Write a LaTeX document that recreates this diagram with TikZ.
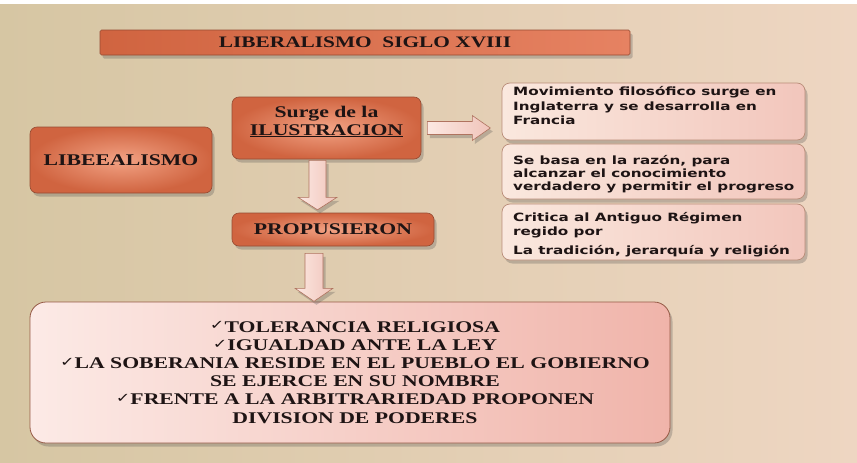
\documentclass[tikz,border=0pt]{standalone}
\usepackage{fontspec}
\setmainfont{Liberation Serif}
\newfontfamily\sansf{DejaVu Sans}
\usepackage{graphicx}
\usetikzlibrary{shadows,calc}
\definecolor{bgL}{RGB}{214,198,163}
\definecolor{bgR}{RGB}{238,214,194}
\definecolor{orD}{RGB}{208,100,64}
\definecolor{orL}{RGB}{242,162,132}
\definecolor{orM}{RGB}{230,130,98}
\definecolor{orB}{RGB}{150,75,50}
\definecolor{rL}{RGB}{250,232,222}
\definecolor{rR}{RGB}{242,198,188}
\definecolor{rB}{RGB}{185,140,120}
\definecolor{bigL}{RGB}{252,234,230}
\definecolor{bigR}{RGB}{240,180,170}
\definecolor{bigB}{RGB}{150,90,70}
\definecolor{aL}{RGB}{252,232,226}
\definecolor{aR}{RGB}{240,196,186}
\definecolor{aB}{RGB}{175,115,95}
\definecolor{txt}{RGB}{30,20,20}
\newcommand{\sx}[1]{\scalebox{1.333}[1]{#1}}
\newcommand{\ck}{{\sansf\mdseries\fontsize{13}{13}\selectfont\raisebox{2.2pt}{✓}}}
\tikzset{
  shd/.style={drop shadow={shadow xshift=2.5pt,shadow yshift=-3.5pt,opacity=0.28,fill=black!70}},
  orbox/.style={draw=orB,line width=0.6pt,rounded corners=7pt,inner color=orL,outer color=orD,shd,
    inner sep=0pt,text=txt,font=\fontsize{16.3}{18}\selectfont\bfseries},
  rbox/.style={draw=rB,line width=0.7pt,rounded corners=8pt,left color=rL,right color=rR,shd,
    minimum width=303pt,inner sep=0pt},
  bigbox/.style={draw=bigB,line width=0.8pt,rounded corners=16pt,left color=bigL,right color=bigR,shd,
    minimum width=640pt,minimum height=141pt,inner sep=0pt},
  sansT/.style={text=txt,inner sep=0pt,font=\sansf\bfseries\fontsize{11.4}{14}\selectfont},
  serT/.style={text=txt,inner sep=0pt,font=\fontsize{16.3}{18}\selectfont\bfseries},
  blockarrow/.style={draw=aB,line width=0.6pt,left color=aL,right color=aR,shd,line join=miter}
}
\begin{document}
\begin{tikzpicture}[x=1pt,y=-1pt]
\fill[white] (0,0) rectangle (857,463);
\shade[left color=bgL,right color=bgR] (0,4) rectangle (857,463);
\useasboundingbox (0,0) rectangle (857,463);

% title bar
\node[draw=orB,line width=0.6pt,rounded corners=1.5pt,left color=orD,middle color=orL,right color=orM,shd,
  minimum width=530pt,minimum height=25pt,inner sep=0pt,text=txt,font=\fontsize{16}{18}\selectfont\bfseries]
  (title) at (365,42.5) {\sx{LIBERALISMO\ \ SIGLO XVIII}};

% orange boxes
\node[orbox,minimum width=182pt,minimum height=66pt] (lib) at (121,160) {\sx{LIBEEALISMO}};
\node[orbox,minimum width=189pt,minimum height=62pt] (surge) at (326.5,128) {};
\node[serT,anchor=base] (surget) at (326.5,117.3)
  {\sx{\begin{tabular}[t]{@{}c@{}}Surge de la\\[-0.3pt]\underline{ILUSTRACION}\end{tabular}}};
\node[orbox,minimum width=202pt,minimum height=33pt] (prop) at (333,229.5) {\sx{PROPUSIERON}};

% right boxes
\node[rbox,minimum height=57pt] (r1) at (653.5,111.5) {};
\node[rbox,minimum height=55pt] (r2) at (653.5,171.5) {};
\node[rbox,minimum height=56pt] (r3) at (653.5,232) {};
\node[sansT,anchor=base west] (r1t) at (513,95.7)
  {\fontsize{11.4}{14.5}\selectfont\sx{\begin{tabular}[t]{@{}l@{}}Movimiento filosófico surge en\\Inglaterra y se desarrolla en\\Francia\end{tabular}}};
\node[sansT,anchor=base west] (r2t) at (513,164)
  {\fontsize{11.4}{13.1}\selectfont\sx{\begin{tabular}[t]{@{}l@{}}Se basa en la razón, para\\alcanzar el conocimiento\\verdadero y permitir el progreso\end{tabular}}};
\node[sansT,anchor=base west] (r3t) at (513,221.7)
  {\fontsize{11.4}{13.3}\selectfont\sx{\begin{tabular}[t]{@{}l@{}}Critica al Antiguo Régimen\\regido por\\[6.5pt]La tradición, jerarquía y religión\end{tabular}}};

% big box
\node[bigbox] (big) at (350,372.5) {};
\node[serT,anchor=base] (bigt) at (355,332)
  {\fontsize{16.3}{18.2}\selectfont\sx{\begin{tabular}[t]{@{}c@{}}
  \ck TOLERANCIA RELIGIOSA\\
  \ck IGUALDAD ANTE LA LEY\\
  \ck LA SOBERANIA RESIDE EN EL PUEBLO EL GOBIERNO\\
  SE EJERCE EN SU NOMBRE\\
  \ck FRENTE A LA ARBITRARIEDAD PROPONEN\\
  DIVISION DE PODERES\end{tabular}}};

% block arrows
\draw[blockarrow] ($(surge.east)+(6,-6.5)$) -- ++(45,0) -- ++(0,-6) -- ++(18,12.5) -- ++(-18,12.5)
  -- ++(0,-6) -- ++(-45,0) -- cycle;
\draw[blockarrow] ($(surge.south)+(-17.5,1)$) -- ++(17,0) -- ++(0,37) -- ++(11,0) -- ++(-19.5,12.5)
  -- ++(-19.5,-12.5) -- ++(11,0) -- cycle;
\draw[blockarrow] ($(prop.south)+(-28,7)$) -- ++(18,0) -- ++(0,35) -- ++(10,0) -- ++(-19,13)
  -- ++(-19,-13) -- ++(10,0) -- cycle;
\end{tikzpicture}
\end{document}
